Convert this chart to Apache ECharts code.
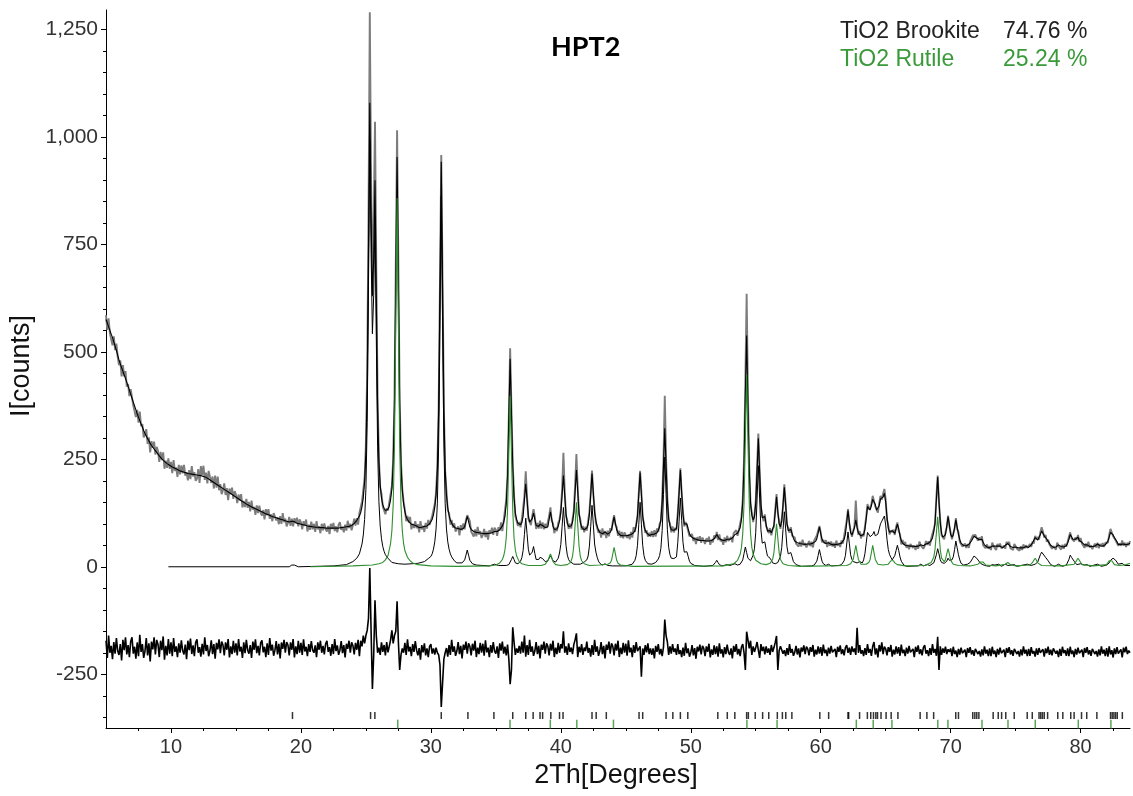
<!DOCTYPE html>
<html><head><meta charset="utf-8">
<script src="https://cdn.jsdelivr.net/npm/echarts@6/dist/echarts.min.js"></script>
<style>html,body{margin:0;padding:0;background:#fff}#c{width:1133px;height:796px}</style>
</head><body><div id="c"></div>
<script>
// x grid: rows start at whole degrees from 5, 0.1 degree steps inside a row
const X_START = 5;
const X_STEP = 0.1;

const xLabels = [10, 20, 30, 40, 50, 60, 70, 80];
const xMinorTicks = [7.5,12.5,15,17.5,22.5,25,27.5,32.5,35,37.5,42.5,45,47.5,52.5,55,57.5,62.5,65,67.5,72.5,75,77.5,82.5];
const yLabels = [-250, 0, 250, 500, 750, 1000, 1250];
const yMinorTicks = [-350,-300,-200,-150,-100,-50,50,100,150,200,300,350,400,450,550,600,650,700,800,850,900,950,1050,1100,1150,1200];

const obsRows = [
[585,551,578,543,545,515,536,504,519,488],
[469,480,443,469,443,455,419,425,397,413],
[410,375,377,348,365,335,361,327,332,301],
[306,320,286,301,266,292,277,291,261,279],
[269,244,267,248,266,228,247,230,252,228],
[244,218,248,223,231,209,237,215,236,217],
[237,212,220,201,225,204,234,210,220,200],
[205,227,195,234,213,235,202,219,194,223],
[226,195,210,182,212,184,210,178,192,169],
[178,194,167,183,155,182,169,184,158,176],
[168,148,168,154,169,138,153,139,158,137],
[151,129,154,133,139,121,143,125,142,126],
[119,132,110,134,120,134,112,122,106,125],
[129,108,115,99,118,100,125,104,112,94],
[102,116,95,112,94,113,101,114,94,110],
[104,87,106,95,110,82,98,86,105,87],
[100,81,106,87,94,78,100,85,101,87],
[82,95,76,100,88,102,83,94,80,98],
[104,86,93,80,98,84,107,90,100,85],
[97,112,96,113,98,125,125,152,155,206],
[285,455,810,1290,900,680,800,1035,690,395],
[253,184,170,140,143,122,136,131,150,154],
[188,250,395,700,1015,700,390,245,182,152],
[133,106,118,103,116,87,100,90,106,90],
[99,80,106,87,95,81,102,89,109,97],
[96,118,115,146,172,236,372,662,958,664],
[373,222,176,131,124,98,109,91,101,82],
[80,94,73,97,85,101,87,109,120,113],
[106,82,86,70,87,71,93,75,83,67],
[74,88,69,82,63,85,77,91,74,91],
[86,72,92,84,103,83,106,110,156,215],
[352,508,368,240,166,118,116,95,104,92],
[110,114,165,222,162,112,110,97,118,134],
[116,88,102,89,107,89,103,87,100,90],
[88,118,138,107,101,78,91,83,102,110],
[132,180,265,175,118,107,88,100,89,110],
[130,190,262,184,122,110,86,95,80,93],
[84,106,128,172,224,168,132,101,100,79],
[86,68,89,74,83,67,84,71,90,84],
[105,120,98,92,72,84,68,81,66,80],
[83,67,75,64,81,68,92,81,99,117],
[172,223,174,115,101,79,85,70,79,70],
[83,69,85,70,89,81,99,107,156,247],
[398,250,158,108,101,80,94,80,91,85],
[126,175,229,170,128,94,104,96,93,71],
[69,76,60,68,53,69,61,71,56,68],
[65,53,66,59,70,51,63,57,73,66],
[81,62,75,59,64,51,68,57,72,60],
[58,69,57,78,74,85,72,85,83,116],
[156,250,430,635,400,230,145,126,104,120],
[152,230,310,225,140,119,106,122,94,88],
[78,90,73,87,93,133,169,124,106,88],
[110,140,192,148,98,90,79,92,72,71],
[68,54,57,47,58,47,63,50,55,45],
[51,60,48,58,45,61,58,73,74,95],
[80,57,63,54,62,46,58,49,59,47],
[56,44,61,49,55,46,61,54,71,74],
[108,134,100,84,70,82,96,154,96,74],
[83,66,77,71,93,116,146,133,138,146],
[165,169,140,138,126,148,165,156,170,181],
[156,110,96,75,85,80,86,74,93,103],
[83,76,52,62,51,58,44,51,41,53],
[56,44,49,39,51,42,59,49,53,42],
[48,60,51,59,49,66,66,87,101,162],
[212,150,106,73,74,64,80,92,119,94],
[79,64,78,88,113,88,80,58,60,47],
[47,54,44,53,44,59,59,73,76,74],
[70,61,68,62,71,50,53,43,52,42],
[48,39,56,48,50,39,53,46,54,43],
[39,49,42,58,53,58,43,47,39,53],
[53,42,45,37,48,39,52,43,50,44],
[43,53,46,59,54,72,64,69,63,80],
[92,82,68,74,58,63,52,55,42,48],
[49,40,56,48,51,40,51,42,53,47],
[58,70,80,66,69,59,68,62,74,58],
[67,54,55,44,54,46,58,45,50,41],
[45,54,45,56,43,53,48,55,46,56],
[58,56,75,88,92,71,73,61,63,49],
[54,49,61,49,56,46,56,50,60]
];

const calcRows = [
[575,567,558,550,541,533,523,513,503,492],
[481,472,463,455,446,438,429,420,411,401],
[392,383,374,365,356,348,340,332,325,317],
[310,304,298,293,287,282,278,274,270,266],
[262,258,255,251,248,245,243,240,238,236],
[234,232,230,229,227,226,225,223,222,221],
[220,219,218,217,217,216,215,215,214,214],
[213,213,212,212,211,210,209,208,206,204],
[202,200,198,196,194,192,190,188,186,184],
[182,180,178,176,174,172,170,168,166,164],
[162,160,158,156,154,152,150,148,146,144],
[143,141,139,138,136,135,133,132,130,129],
[128,126,125,123,122,121,120,118,117,116],
[115,114,113,112,111,110,109,108,107,106],
[105,104,104,106,110,105,102,101,101,100],
[99,98,97,97,96,95,95,94,94,93],
[93,92,92,92,91,91,91,91,90,90],
[90,90,90,90,90,90,90,90,90,90],
[91,91,91,92,92,93,93,94,95,96],
[100,101,104,108,112,118,126,140,161,197],
[267,423,741,1079,816,629,718,899,628,373],
[245,190,160,144,136,131,131,134,141,156],
[181,241,378,662,953,661,376,238,178,147],
[128,116,110,105,103,99,97,97,96,95],
[92,91,92,92,92,94,93,95,98,100],
[104,110,121,138,168,228,366,650,942,650],
[365,227,167,137,120,108,102,96,93,90],
[88,89,87,87,87,89,94,105,117,105],
[93,87,84,82,81,80,79,79,78,78],
[77,77,77,77,77,78,78,79,80,82],
[81,82,84,86,90,95,103,117,146,210],
[345,484,357,232,161,125,110,101,97,98],
[103,118,155,193,156,119,104,102,112,125],
[110,96,92,94,99,98,96,93,91,94],
[93,110,128,111,94,87,85,88,94,106],
[126,168,212,166,123,101,94,93,95,104],
[126,174,225,176,126,104,92,88,86,87],
[90,99,122,168,217,173,126,107,94,85],
[80,78,77,78,81,78,76,77,80,86],
[101,116,101,86,79,76,73,72,72,73],
[72,72,73,74,75,76,79,84,95,119],
[168,219,168,119,95,84,79,75,73,75],
[75,75,76,77,79,85,93,110,151,235],
[322,235,153,112,95,86,89,85,84,89],
[121,171,225,173,122,99,98,100,88,77],
[71,68,66,64,64,63,62,62,61,61],
[61,61,60,60,60,60,61,63,65,70],
[75,70,65,63,62,61,61,62,64,62],
[64,65,67,70,75,76,78,82,91,110],
[150,237,400,538,370,223,149,120,109,116],
[149,222,299,220,146,114,111,117,98,83],
[82,84,79,82,97,128,163,128,100,93],
[106,145,185,144,102,84,84,87,77,66],
[60,58,56,55,54,53,53,52,52,52],
[53,53,53,54,55,56,59,65,78,92],
[77,64,58,55,54,54,56,54,52,51],
[51,51,52,52,53,54,55,58,64,76],
[103,131,105,79,74,77,91,109,91,79],
[78,72,70,75,87,112,140,138,132,142],
[157,160,145,132,130,142,158,160,162,171],
[150,115,90,80,80,84,80,78,88,99],
[88,72,61,55,52,50,49,49,48,48],
[48,48,48,47,47,48,49,51,50,49],
[50,53,56,55,57,61,67,81,104,156],
[209,154,102,77,69,68,75,95,116,98],
[75,69,74,91,109,92,76,63,55,52],
[49,48,49,50,52,55,60,66,71,69],
[67,67,63,63,64,57,51,47,46,45],
[44,45,48,51,48,46,48,50,48,45],
[44,46,50,52,54,51,47,45,45,48],
[46,45,44,44,44,44,44,45,47,50],
[45,47,51,56,62,68,65,62,66,75],
[83,80,72,69,64,59,55,50,46,45],
[45,46,48,51,49,47,46,46,47,49],
[55,64,75,70,64,64,64,66,69,61],
[60,57,54,51,50,51,50,47,47,47],
[47,48,50,53,51,49,48,48,49,51],
[55,60,69,80,81,74,68,65,58,52],
[49,52,55,53,51,51,52,53,55]
];

const diffRows = [
[-172,-212,-160,-200,-184,-215,-175,-202,-166,-196],
[-205,-180,-218,-170,-194,-164,-204,-182,-210,-174],
[-164,-202,-186,-214,-176,-208,-158,-198,-180,-212],
[-196,-166,-206,-178,-220,-174,-192,-164,-204,-170],
[-180,-210,-172,-194,-162,-216,-184,-206,-168,-202],
[-176,-208,-166,-198,-185,-210,-178,-200,-171,-195],
[-204,-181,-215,-172,-194,-167,-203,-183,-208,-176],
[-169,-200,-187,-209,-179,-204,-164,-196,-182,-208],
[-195,-171,-203,-180,-214,-177,-192,-169,-201,-174],
[-182,-206,-176,-193,-168,-211,-185,-203,-172,-200],
[-178,-206,-168,-197,-186,-212,-176,-201,-170,-194],
[-202,-182,-212,-174,-193,-169,-201,-184,-206,-177],
[-171,-199,-186,-210,-178,-205,-166,-195,-181,-207],
[-194,-173,-204,-179,-213,-176,-191,-170,-200,-175],
[-182,-206,-176,-193,-168,-211,-185,-203,-172,-200],
[-177,-205,-169,-197,-186,-208,-180,-198,-173,-194],
[-200,-183,-210,-176,-193,-172,-200,-184,-204,-179],
[-172,-198,-187,-207,-180,-203,-168,-196,-183,-205],
[-194,-173,-201,-182,-211,-179,-191,-172,-200,-176],
[-183,-204,-177,-193,-170,-208,-172,-185,-160,-178],
[-160,-148,-120,-3,-150,-284,-205,-78,-160,-200],
[-188,-205,-176,-198,-182,-206,-175,-199,-185,-170],
[-148,-178,-160,-150,-80,-175,-240,-205,-190,-200],
[-177,-205,-169,-197,-186,-208,-180,-198,-173,-194],
[-206,-189,-216,-182,-199,-178,-206,-190,-210,-185],
[-180,-202,-190,-204,-188,-200,-205,-228,-326,-270],
[-215,-200,-189,-209,-182,-205,-170,-198,-185,-207],
[-196,-175,-203,-184,-213,-181,-193,-174,-202,-178],
[-185,-206,-179,-195,-172,-210,-188,-203,-177,-200],
[-179,-207,-171,-199,-188,-210,-182,-200,-175,-196],
[-202,-185,-212,-178,-195,-174,-202,-186,-206,-181],
[-215,-273,-240,-141,-175,-205,-190,-200,-184,-202],
[-174,-200,-160,-209,-182,-205,-170,-198,-185,-207],
[-196,-175,-203,-184,-213,-181,-193,-174,-202,-178],
[-185,-206,-179,-195,-172,-210,-188,-203,-177,-200],
[-180,-190,-150,-200,-185,-205,-178,-198,-188,-203],
[-181,-170,-155,-210,-186,-199,-180,-205,-188,-196],
[-174,-200,-189,-209,-182,-205,-170,-198,-185,-207],
[-196,-175,-203,-184,-213,-181,-193,-174,-202,-178],
[-185,-206,-179,-195,-172,-210,-188,-203,-177,-200],
[-179,-207,-171,-199,-188,-210,-182,-200,-175,-196],
[-200,-185,-256,-190,-205,-182,-199,-178,-203,-190],
[-205,-190,-213,-184,-198,-180,-204,-191,-208,-187],
[-123,-160,-175,-205,-185,-202,-180,-198,-190,-205],
[-180,-203,-194,-210,-188,-207,-177,-201,-190,-209],
[-200,-182,-206,-189,-214,-186,-197,-181,-204,-184],
[-190,-208,-185,-198,-179,-211,-192,-205,-183,-203],
[-185,-209,-178,-202,-192,-211,-187,-203,-181,-199],
[-205,-190,-213,-184,-198,-180,-204,-191,-208,-187],
[-180,-200,-240,-151,-170,-190,-172,-205,-185,-198],
[-188,-175,-178,-212,-180,-196,-186,-204,-185,-200],
[-190,-205,-182,-198,-188,-176,-161,-240,-195,-185],
[-182,-202,-194,-208,-189,-205,-180,-200,-191,-207],
[-199,-184,-204,-190,-211,-188,-197,-183,-203,-186],
[-191,-206,-187,-198,-182,-209,-193,-204,-185,-202],
[-187,-207,-181,-201,-193,-208,-188,-202,-184,-199],
[-203,-191,-210,-186,-198,-183,-203,-192,-206,-188],
[-182,-200,-188,-205,-185,-198,-190,-205,-142,-200],
[-182,-202,-194,-208,-189,-205,-180,-200,-191,-207],
[-185,-175,-204,-190,-211,-182,-197,-176,-203,-186],
[-191,-206,-187,-198,-182,-209,-193,-204,-185,-202],
[-187,-207,-181,-201,-193,-208,-188,-202,-184,-199],
[-203,-191,-210,-186,-198,-183,-203,-192,-206,-188],
[-182,-202,-194,-208,-189,-205,-180,-200,-191,-207],
[-163,-240,-185,-205,-190,-200,-186,-203,-192,-198],
[-190,-208,-186,-203,-195,-210,-191,-204,-188,-201],
[-205,-193,-210,-189,-200,-187,-204,-194,-207,-191],
[-187,-203,-196,-209,-192,-206,-185,-202,-193,-208],
[-190,-208,-186,-203,-195,-210,-191,-204,-188,-201],
[-205,-193,-210,-189,-200,-187,-204,-194,-207,-191],
[-187,-203,-196,-209,-192,-206,-185,-202,-193,-208],
[-191,-207,-187,-202,-196,-209,-190,-205,-189,-200],
[-204,-192,-209,-190,-201,-186,-205,-193,-206,-190],
[-188,-202,-195,-210,-191,-207,-186,-201,-194,-207],
[-190,-208,-186,-203,-195,-210,-191,-204,-188,-201],
[-205,-193,-210,-189,-200,-187,-204,-194,-207,-191],
[-187,-203,-196,-209,-192,-206,-185,-202,-193,-208],
[-189,-209,-185,-204,-194,-211,-190,-203,-187,-202],
[-204,-192,-211,-188,-199,-186,-203,-195,-200]
];

const brookite = [[9.8,0],[19.1,0],[19.2,1],[19.3,4],[19.4,8],[19.5,4],[19.6,1],[19.8,0],[22.5,2],[23.5,5],[24.0,12],[24.3,20],[24.5,30],[24.7,53],[24.8,74],[24.9,110],[25.0,180],[25.1,336],[25.2,654],[25.3,992],[25.4,729],[25.5,542],[25.6,631],[25.7,812],[25.8,535],[25.9,279],[26.0,152],[26.1,95],[26.2,65],[26.3,47],[26.4,36],[26.5,28],[26.7,20],[27.0,10],[27.5,7],[28.0,6],[29.0,8],[29.5,12],[29.8,19],[30.0,24],[30.1,30],[30.2,41],[30.3,58],[30.4,88],[30.5,148],[30.6,286],[30.7,570],[30.8,862],[30.9,570],[31.0,286],[31.1,148],[31.2,88],[31.3,58],[31.4,41],[31.5,30],[31.6,23],[31.8,14],[32.0,9],[32.4,9],[32.5,11],[32.6,16],[32.7,27],[32.8,39],[32.9,27],[33.0,15],[33.2,7],[33.5,4],[34.5,2],[34.9,6],[35.2,3],[35.8,3],[36.0,5],[36.1,8],[36.2,17],[36.3,24],[36.4,17],[36.5,9],[36.6,8],[36.7,7],[36.8,9],[36.9,13],[37.0,21],[37.1,38],[37.2,75],[37.3,113],[37.4,77],[37.5,41],[37.6,27],[37.7,24],[37.8,34],[37.9,47],[38.0,31],[38.1,17],[38.2,14],[38.3,17],[38.4,22],[38.5,20],[38.6,19],[38.7,15],[38.8,12],[38.9,12],[39.0,14],[39.1,20],[39.2,26],[39.3,20],[39.4,14],[39.5,11],[39.6,11],[39.7,14],[39.8,20],[39.9,32],[40.0,52],[40.1,94],[40.2,138],[40.3,92],[40.4,49],[40.5,27],[40.6,17],[40.7,12],[40.8,9],[41.0,6],[41.5,6],[41.8,11],[42.0,16],[42.1,25],[42.2,48],[42.3,94],[42.4,143],[42.5,99],[42.6,53],[42.7,34],[42.8,22],[42.9,13],[43.0,8],[43.2,4],[43.4,7],[43.6,3],[44.0,2],[45.0,2],[45.5,6],[45.7,15],[45.8,26],[45.9,50],[46.0,99],[46.1,150],[46.2,99],[46.3,50],[46.4,26],[46.5,15],[46.7,7],[47.0,6],[47.3,10],[47.5,18],[47.6,26],[47.7,43],[47.8,84],[47.9,168],[48.0,255],[48.1,168],[48.2,86],[48.3,45],[48.4,28],[48.5,20],[48.6,22],[48.7,19],[48.8,18],[48.9,23],[49.0,56],[49.1,106],[49.2,160],[49.3,108],[49.4,57],[49.5,34],[49.6,33],[49.7,35],[49.8,24],[49.9,13],[50.0,8],[50.3,3],[51.0,1],[51.7,3],[51.8,5],[51.9,10],[52.0,15],[52.1,10],[52.2,5],[52.4,2],[52.8,5],[53.0,3],[53.4,7],[53.6,4],[53.8,6],[53.9,8],[54.0,16],[54.1,31],[54.2,46],[54.3,33],[54.4,20],[54.5,16],[54.6,14],[54.7,18],[54.8,27],[54.9,42],[55.0,80],[55.1,156],[55.2,235],[55.3,158],[55.4,86],[55.5,55],[55.6,51],[55.7,58],[55.8,40],[55.9,25],[56.0,22],[56.1,20],[56.2,15],[56.3,9],[56.5,7],[56.7,10],[56.8,14],[56.9,24],[57.0,45],[57.1,87],[57.2,128],[57.3,88],[57.4,47],[57.5,30],[57.6,30],[57.7,33],[57.8,23],[57.9,12],[58.1,5],[58.5,1],[59.3,2],[59.5,4],[59.6,7],[59.7,13],[59.8,26],[59.9,40],[60.0,26],[60.1,13],[60.2,7],[60.4,3],[60.6,6],[60.8,2],[61.4,3],[61.6,5],[61.7,8],[61.8,14],[61.9,26],[62.0,53],[62.1,81],[62.2,55],[62.3,28],[62.4,17],[62.5,12],[62.6,9],[62.8,9],[63.0,12],[63.2,9],[63.3,16],[63.4,30],[63.5,55],[63.6,80],[63.7,80],[63.8,70],[63.9,70],[64.0,75],[64.1,82],[64.2,72],[64.3,70],[64.4,76],[64.5,88],[64.6,100],[64.7,106],[64.8,110],[64.9,118],[65.0,97],[65.1,64],[65.2,40],[65.3,28],[65.4,22],[65.5,16],[65.6,20],[65.7,26],[65.8,38],[65.9,50],[66.0,38],[66.1,23],[66.2,13],[66.4,4],[66.6,1],[67.5,2],[67.7,6],[67.9,2],[68.2,5],[68.4,3],[68.7,9],[68.8,18],[68.9,28],[69.0,42],[69.1,30],[69.2,16],[69.3,10],[69.5,8],[69.7,13],[69.8,20],[69.9,15],[70.1,16],[70.2,23],[70.3,40],[70.4,60],[70.5,44],[70.6,28],[70.7,16],[70.8,8],[71.0,4],[71.3,6],[71.5,10],[71.7,20],[71.8,25],[71.9,23],[72.0,20],[72.1,18],[72.3,8],[72.6,3],[73.0,1],[73.2,5],[73.3,8],[73.4,4],[73.7,6],[73.9,1],[74.2,6],[74.4,3],[74.9,5],[75.1,1],[75.9,6],[76.2,3],[76.5,6],[76.7,11],[76.9,28],[77.0,34],[77.1,32],[77.3,22],[77.5,14],[77.7,5],[78.0,1],[78.3,6],[78.6,1],[78.9,4],[79.1,17],[79.2,27],[79.3,22],[79.5,13],[79.7,5],[80.0,7],[80.1,8],[80.3,4],[80.5,5],[80.7,1],[81.3,6],[81.6,1],[82.0,4],[82.2,9],[82.3,15],[82.4,19],[82.5,20],[82.6,18],[82.7,15],[82.9,6],[83.2,8],[83.4,3],[83.8,3]];

const rutile = [[20.7,0],[24.0,2],[25.5,4],[26.0,7],[26.3,10],[26.5,16],[26.7,26],[26.9,54],[27.0,84],[27.1,144],[27.2,282],[27.3,566],[27.4,858],[27.5,566],[27.6,282],[27.7,144],[27.8,84],[27.9,54],[28.0,38],[28.2,22],[28.4,14],[28.6,9],[29.0,5],[30.0,2],[32.0,1],[34.5,2],[35.0,4],[35.3,9],[35.5,17],[35.6,25],[35.7,39],[35.8,67],[35.9,131],[36.0,264],[36.1,398],[36.2,264],[36.3,131],[36.4,67],[36.5,39],[36.6,25],[36.8,12],[37.0,7],[37.5,3],[38.5,3],[38.8,6],[38.9,9],[39.0,14],[39.1,22],[39.2,30],[39.3,22],[39.4,12],[39.6,5],[40.0,3],[40.5,5],[40.7,9],[40.8,14],[40.9,24],[41.0,49],[41.1,98],[41.2,150],[41.3,98],[41.4,49],[41.5,24],[41.6,14],[41.8,7],[42.2,3],[43.0,4],[43.6,6],[43.8,9],[43.9,15],[44.0,30],[44.1,45],[44.2,30],[44.3,15],[44.4,8],[44.6,4],[45.5,1],[52.5,2],[53.3,7],[53.6,15],[53.8,29],[53.9,45],[54.0,77],[54.1,148],[54.2,296],[54.3,448],[54.4,296],[54.5,148],[54.6,77],[54.7,45],[54.8,29],[55.0,15],[55.4,7],[55.8,5],[56.1,8],[56.3,17],[56.4,33],[56.5,66],[56.6,100],[56.7,66],[56.8,33],[56.9,17],[57.1,7],[57.5,3],[58.5,1],[62.0,3],[62.3,7],[62.5,17],[62.6,33],[62.7,50],[62.8,33],[62.9,17],[63.1,6],[63.5,6],[63.7,10],[63.8,17],[63.9,33],[64.0,50],[64.1,33],[64.2,17],[64.4,6],[64.8,4],[65.2,6],[65.3,10],[65.4,14],[65.5,18],[65.6,14],[65.7,9],[65.9,5],[66.5,2],[68.0,3],[68.5,10],[68.7,22],[68.8,42],[68.9,78],[69.0,116],[69.1,78],[69.2,40],[69.3,20],[69.5,12],[69.6,17],[69.7,30],[69.8,42],[69.9,30],[70.0,15],[70.2,6],[70.6,3],[71.5,2],[72.1,6],[72.3,11],[72.4,15],[72.5,11],[72.7,4],[73.5,2],[74.2,6],[74.4,10],[74.6,5],[75.0,2],[76.1,4],[76.3,10],[76.4,15],[76.5,20],[76.6,15],[76.7,9],[77.0,3],[78.5,2],[79.5,6],[79.7,15],[79.8,20],[79.9,15],[80.1,5],[81.0,2],[82.0,5],[82.2,14],[82.3,18],[82.4,14],[82.6,5],[83.0,3],[83.5,5],[83.8,8]];

const brookiteTicks = [19.35,25.36,25.69,30.8,32.85,34.85,36.3,37.3,37.87,38.4,38.6,39.23,39.9,40.17,42.4,42.72,43.5,46.02,46.3,48.1,48.62,49.2,49.77,52.08,52.81,53.39,54.3,54.43,54.96,55.53,56.0,56.66,57.05,57.31,57.78,59.93,60.61,62.1,62.15,62.99,63.59,63.85,64.06,64.24,64.37,64.64,65.03,65.42,65.94,67.65,68.17,68.69,70.39,70.6,71.7,71.86,72.01,72.17,73.27,73.66,73.92,74.24,74.89,75.89,76.28,76.8,76.93,77.06,77.2,77.46,78.24,78.63,79.24,79.5,80.07,80.47,81.25,82.3,82.43,82.56,82.69,82.82,83.21];
const rutileTicks = [27.45,36.09,39.19,41.23,44.05,54.32,56.64,62.74,64.04,65.48,69.01,69.79,72.41,74.41,76.51,79.82,82.33];
const BROOKITE_TICK_LEVEL = -346;
const RUTILE_TICK_LEVEL = -366;

function rowsToPoints(rows) {
  const pts = [];
  rows.forEach((row, r) => row.forEach((v, i) => {
    const x = Math.round(((X_START + r) / X_STEP) + i) * X_STEP;
    pts.push([Math.round(x * 10) / 10, v]);
  }));
  return pts;
}

const FONT = "'Liberation Sans', Arial, sans-serif";
const chart = echarts.init(document.getElementById('c'), null, { renderer: 'canvas' });

const lineBase = { type: 'line', showSymbol: false, symbol: 'none', animation: false, silent: true, clip: true };

chart.setOption({
  animation: false,
  backgroundColor: '#ffffff',
  grid: { left: 106, right: 3, top: 10, bottom: 68, containLabel: false, outerBoundsMode: 'none' },
  xAxis: [
    {
      type: 'value', min: 5, max: 83.8, position: 'bottom',
      axisLine: { show: true, onZero: false, lineStyle: { color: '#000', width: 1 } },
      axisTick: { show: true, length: 5, customValues: xLabels, lineStyle: { color: '#000' } },
      axisLabel: { show: true, customValues: xLabels, margin: 9, color: '#333', fontSize: 20, fontFamily: FONT },
      splitLine: { show: false }
    },
    {
      type: 'value', min: 5, max: 83.8, position: 'bottom', offset: 0,
      axisLine: { show: false, onZero: false },
      axisTick: { show: true, length: 3, customValues: xMinorTicks, lineStyle: { color: '#000' } },
      axisLabel: { show: false },
      splitLine: { show: false }
    }
  ],
  yAxis: [
    {
      type: 'value', min: -375, max: 1295, position: 'left',
      axisLine: { show: true, onZero: false, lineStyle: { color: '#000', width: 1 } },
      axisTick: { show: true, length: 5, customValues: yLabels, lineStyle: { color: '#000' } },
      axisLabel: {
        show: true, customValues: yLabels, margin: 8, color: '#333', fontSize: 21, fontFamily: FONT,
        formatter: v => v.toLocaleString('en-US')
      },
      splitLine: { show: false }
    },
    {
      type: 'value', min: -375, max: 1295, position: 'left', offset: 0,
      axisLine: { show: false, onZero: false },
      axisTick: { show: true, length: 3, customValues: yMinorTicks, lineStyle: { color: '#000' } },
      axisLabel: { show: false },
      splitLine: { show: false }
    }
  ],
  series: [
    Object.assign({}, lineBase, { name: 'obs', data: rowsToPoints(obsRows), lineStyle: { color: '#7c7c7c', width: 1.9 }, z: 1 }),
    Object.assign({}, lineBase, { name: 'calc', data: rowsToPoints(calcRows), lineStyle: { color: '#000000', width: 1.1 }, z: 2 }),
    Object.assign({}, lineBase, { name: 'brookite', data: brookite, lineStyle: { color: '#000000', width: 1 }, z: 3 }),
    Object.assign({}, lineBase, { name: 'rutile', data: rutile, lineStyle: { color: '#2f8f2f', width: 1.1 }, z: 4 }),
    Object.assign({}, lineBase, { name: 'diff', data: rowsToPoints(diffRows), lineStyle: { color: '#000000', width: 1.6 }, z: 2 }),
    {
      type: 'scatter', name: 'brookiteTicks', silent: true, animation: false,
      symbol: 'rect', symbolSize: [1.5, 7], itemStyle: { color: '#000' },
      data: brookiteTicks.map(x => [x, BROOKITE_TICK_LEVEL]), z: 5
    },
    {
      type: 'scatter', name: 'rutileTicks', silent: true, animation: false,
      symbol: 'rect', symbolSize: [1.5, 9], itemStyle: { color: '#2f8f2f' },
      data: rutileTicks.map(x => [x, RUTILE_TICK_LEVEL]), z: 5
    }
  ],
  graphic: [
    { type: 'text', left: 551, top: 34, style: { text: 'HPT2', font: "bold 27px Lato, 'Liberation Sans', Arial, sans-serif", fill: '#000' } },
    { type: 'text', left: 840, top: 20, style: { text: 'TiO2 Brookite', font: "23px 'Liberation Sans', Arial, sans-serif", fill: '#222' } },
    { type: 'text', left: 1003, top: 20, style: { text: '74.76 %', font: "23px 'Liberation Sans', Arial, sans-serif", fill: '#222' } },
    { type: 'text', left: 840, top: 48, style: { text: 'TiO2 Rutile', font: "23px 'Liberation Sans', Arial, sans-serif", fill: '#3a9a3a' } },
    { type: 'text', left: 1003, top: 48, style: { text: '25.24 %', font: "23px 'Liberation Sans', Arial, sans-serif", fill: '#3a9a3a' } },
    { type: 'text', x: 616, y: 776, style: { text: '2Th[Degrees]', font: "27px 'Liberation Sans', Arial, sans-serif", fill: '#111', align: 'center', verticalAlign: 'middle' } },
    { type: 'text', x: 22, y: 366, rotation: Math.PI / 2, style: { text: 'I[counts]', font: "27px 'Liberation Sans', Arial, sans-serif", fill: '#111', align: 'center', verticalAlign: 'middle' } }
  ]
});
</script>
</body></html>
